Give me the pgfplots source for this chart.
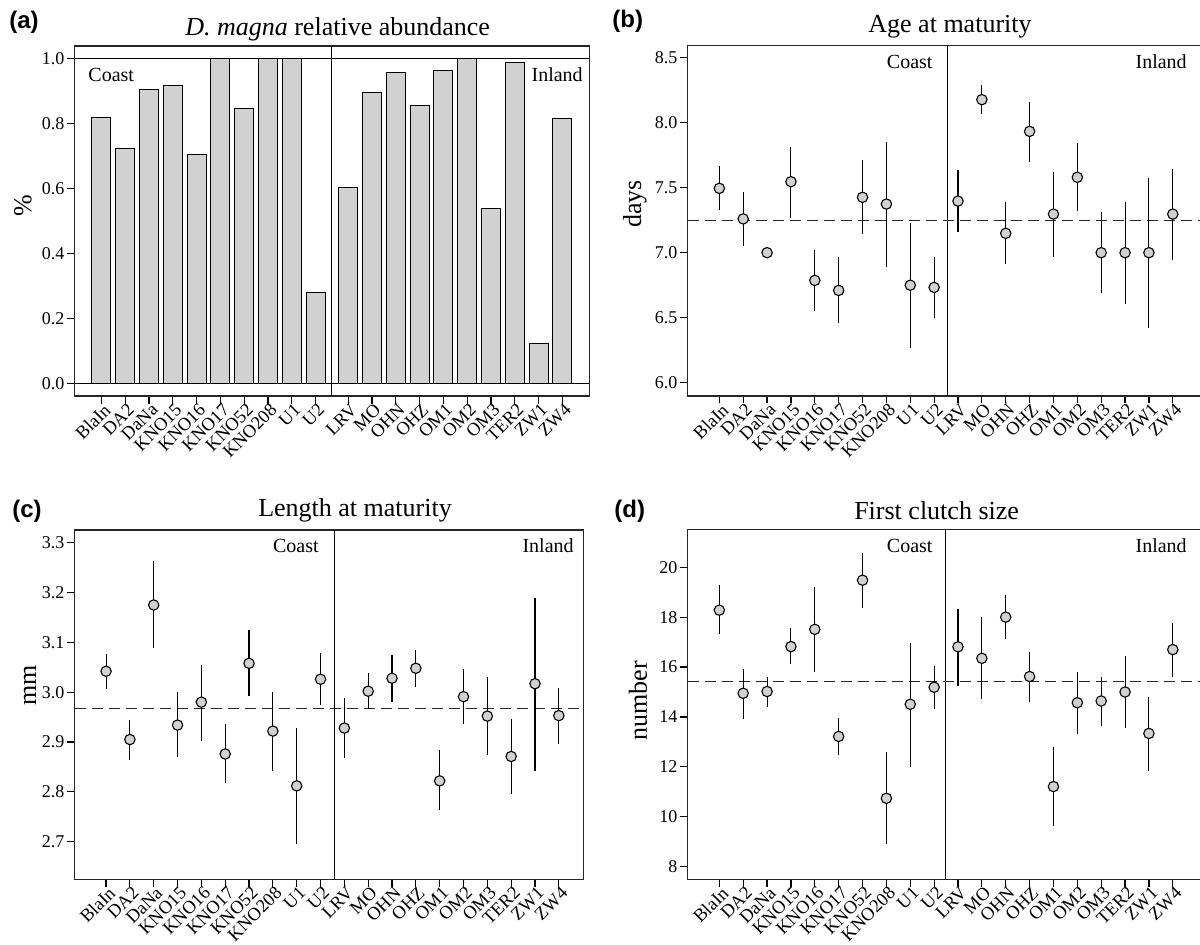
\documentclass[border=0pt]{standalone}
\usepackage{pgfplots}
\pgfplotsset{compat=1.18}
\usepackage{pgfplotstable}
\usepackage{fontspec}
\setmainfont{Liberation Serif}
\newfontfamily\panelfont{Liberation Sans}
\definecolor{barfill}{gray}{0.82}

\pgfplotstableread{
x y
0 0.819
1 0.722
2 0.906
3 0.916
4 0.704
5 1.000
6 0.847
7 1.000
8 1.000
9 0.280
10.37 0.603
11.37 0.896
12.37 0.956
13.37 0.856
14.37 0.963
15.37 1.000
16.37 0.539
17.37 0.987
18.37 0.123
19.37 0.817
}\abund

\pgfplotstableread{
x y lo hi
0 7.495 7.33 7.67
1 7.26 7.05 7.47
2 7.00 7.00 7.00
3 7.546 7.27 7.815
4 6.787 6.55 7.02
5 6.71 6.456 6.97
6 7.426 7.14 7.71
7 7.374 6.89 7.85
8 6.75 6.264 7.226
9 6.733 6.50 6.964
10 7.397 7.16 7.636
11 8.177 8.064 8.29
12 7.149 6.91 7.392
13 7.933 7.697 8.156
14 7.297 6.97 7.623
15 7.58 7.318 7.84
16 7.00 6.687 7.31
17 7.00 6.605 7.39
18 7.00 6.418 7.574
19 7.297 6.944 7.64
}\agetab

\pgfplotstableread{
x y lo hi
0 3.042 3.006 3.076
1 2.905 2.864 2.944
2 3.175 3.088 3.263
3 2.934 2.869 3.000
4 2.980 2.903 3.055
5 2.876 2.817 2.936
6 3.058 2.993 3.125
7 2.922 2.842 3.000
8 2.812 2.695 2.929
9 3.026 2.974 3.078
10 2.928 2.867 2.989
11 3.002 2.966 3.038
12 3.028 2.980 3.075
13 3.048 3.011 3.085
14 2.822 2.764 2.883
15 2.991 2.936 3.046
16 2.952 2.873 3.031
17 2.871 2.796 2.947
18 3.017 2.842 3.190
19 2.953 2.896 3.008
}\lentab

\pgfplotstableread{
x y lo hi
0 18.28 17.31 19.28
1 14.95 13.92 15.92
2 15.02 14.41 15.59
3 16.82 16.11 17.55
4 17.51 15.82 19.20
5 13.22 12.48 13.97
6 19.48 18.36 20.56
7 10.74 8.90 12.60
8 14.51 12.01 16.98
9 15.19 14.33 16.06
10 16.81 15.24 18.33
11 16.35 14.73 18.00
12 18.00 17.13 18.89
13 15.62 14.59 16.61
14 11.21 9.63 12.80
15 14.57 13.33 15.82
16 14.64 13.64 15.59
17 15.00 13.55 16.46
18 13.34 11.85 14.80
19 16.70 15.62 17.78
}\clutchtab

\tikzset{
  meanline/.style={black!85, line width=0.6pt, dash pattern=on 5.5pt off 3pt},
  sepline/.style={black, line width=0.5pt},
  grp/.style={font=\fontsize{10}{12}\selectfont, inner sep=0pt},
}

\pgfplotsset{
  common/.style={
    scale only axis,
    axis line style={line width=0.75pt, black!85},
    every tick/.style={line width=0.6pt, black},
    major tick length=3.75pt,
    tick align=outside,
    tick pos=left,
    /pgf/number format/assume math mode=true,
    yticklabel style={font=\fontsize{9}{10}\selectfont, inner sep=1.2pt},
    xticklabel style={font=\fontsize{9.2}{10}\selectfont, rotate=45, anchor=north east, inner sep=0.5pt, xshift=1.5pt, yshift=0.6pt},
    xticklabels={BlaIn,DA2,DaNa,KNO15,KNO16,KNO17,KNO52,KNO208,U1,U2,LRV,MO,OHN,OHZ,OM1,OM2,OM3,TER2,ZW1,ZW4},
    yticklabel style={/pgf/number format/.cd, fixed, fixed zerofill, precision=1},
  },
  pts/.style={only marks, mark=*, mark size=2.6pt,
    mark options={fill=barfill, draw=black, line width=0.55pt},
    error bars/.cd, y dir=both, y explicit, error mark=none,
    error bar style={line width=0.55pt, black}},
}

\begin{document}
\begin{tikzpicture}
\useasboundingbox (0,0) rectangle (600pt,472pt);
\clip (0,0) rectangle (600pt,472pt);

% ---------- (a)
\begin{axis}[common,
  at={(37.3pt,274pt)}, anchor=south west,
  width=257.35pt, height=175pt,
  xmin=-1.126, xmax=20.5, ymin=-0.039, ymax=1.039,
  xtick={0,1,2,3,4,5,6,7,8,9,10.37,11.37,12.37,13.37,14.37,15.37,16.37,17.37,18.37,19.37},
  ytick={0,0.2,0.4,0.6,0.8,1.0},
]
\addplot[ybar, bar width=0.8, bar shift=0pt, fill=barfill, draw=black, line width=0.55pt] table[x=x,y=y] {\abund};
\draw[sepline] (axis cs:-1.126,0) -- (axis cs:20.5,0);
\draw[sepline] (axis cs:-1.126,1) -- (axis cs:20.5,1);
\draw[sepline] (axis cs:9.68,-0.039) -- (axis cs:9.68,1.039);
\node[grp, anchor=base west] at (axis cs:-0.56,0.929) {Coast};
\node[grp, anchor=base east] at (axis cs:20.24,0.929) {Inland};
\end{axis}

% ---------- (b)
\begin{axis}[common,
  at={(343.8pt,274pt)}, anchor=south west,
  width=258.7pt, height=175.35pt,
  xmin=-1.33, xmax=20.35, ymin=5.898, ymax=8.595,
  xtick={0,...,19},
  ytick={6.0,6.5,7.0,7.5,8.0,8.5},
]
\draw[sepline] (axis cs:9.54,5.898) -- (axis cs:9.54,8.595);
\addplot[meanline] coordinates {(-1.33,7.246) (20.35,7.246)};
\addplot[pts] table[x=x, y=y, y error plus expr=\thisrow{hi}-\thisrow{y}, y error minus expr=\thisrow{y}-\thisrow{lo}] {\agetab};
\node[grp, anchor=base east] at (axis cs:8.95,8.418) {Coast};
\node[grp, anchor=base east] at (axis cs:19.6,8.418) {Inland};
\end{axis}

% ---------- (c)
\begin{axis}[common,
  at={(37.3pt,32.35pt)}, anchor=south west,
  width=254.5pt, height=174.65pt,
  xmin=-1.32, xmax=20.04, ymin=2.6245, ymax=3.3255,
  xtick={0,...,19},
  ytick={2.7,2.8,2.9,3.0,3.1,3.2,3.3},
]
\draw[sepline] (axis cs:9.57,2.6245) -- (axis cs:9.57,3.3255);
\addplot[meanline] coordinates {(-1.32,2.968) (20.04,2.968)};
\addplot[pts] table[x=x, y=y, y error plus expr=\thisrow{hi}-\thisrow{y}, y error minus expr=\thisrow{y}-\thisrow{lo}] {\lentab};
\node[grp, anchor=base east] at (axis cs:8.94,3.28) {Coast};
\node[grp, anchor=base east] at (axis cs:19.64,3.28) {Inland};
\end{axis}

% ---------- (d)
\begin{axis}[common,
  at={(343.8pt,32.35pt)}, anchor=south west,
  width=258.7pt, height=175pt,
  xmin=-1.33, xmax=20.35, ymin=7.495, ymax=21.52,
  xtick={0,...,19},
  ytick={8,10,12,14,16,18,20},
  yticklabel style={/pgf/number format/.cd, fixed, precision=0},
]
\draw[sepline] (axis cs:9.46,7.495) -- (axis cs:9.46,21.52);
\addplot[meanline] coordinates {(-1.33,15.42) (20.35,15.42)};
\addplot[pts] table[x=x, y=y, y error plus expr=\thisrow{hi}-\thisrow{y}, y error minus expr=\thisrow{y}-\thisrow{lo}] {\clutchtab};
\node[grp, anchor=base east] at (axis cs:8.95,20.585) {Coast};
\node[grp, anchor=base east] at (axis cs:19.6,20.585) {Inland};
\end{axis}

% ---------- titles, panel letters, y labels
\begin{scope}[every node/.style={inner sep=0pt}]
\node[anchor=base, font=\fontsize{13}{15}\selectfont] at (168.8pt,454pt) {\textit{D. magna} relative abundance};
\node[anchor=base, font=\fontsize{13}{15}\selectfont] at (475pt,455.8pt) {Age at maturity};
\node[anchor=base, font=\fontsize{13}{15}\selectfont] at (177.5pt,213.6pt) {Length at maturity};
\node[anchor=base, font=\fontsize{13}{15}\selectfont] at (468.3pt,212.3pt) {First clutch size};

\node[anchor=base west, font=\panelfont\bfseries\fontsize{12}{14}\selectfont] at (4.5pt,457.5pt) {(a)};
\node[anchor=base west, font=\panelfont\bfseries\fontsize{12}{14}\selectfont] at (306pt,458pt) {(b)};
\node[anchor=base west, font=\panelfont\bfseries\fontsize{12}{14}\selectfont] at (6pt,213.5pt) {(c)};
\node[anchor=base west, font=\panelfont\bfseries\fontsize{12}{14}\selectfont] at (307pt,213.5pt) {(d)};

\node[rotate=90, font=\fontsize{13}{15}\selectfont] at (11.5pt,369pt) {\%};
\node[rotate=90, font=\fontsize{13}{15}\selectfont] at (317.5pt,370pt) {days};
\node[rotate=90, font=\fontsize{13}{15}\selectfont] at (15pt,129.3pt) {mm};
\node[rotate=90, font=\fontsize{13}{15}\selectfont] at (319pt,121.6pt) {number};
\end{scope}
\end{tikzpicture}
\end{document}
